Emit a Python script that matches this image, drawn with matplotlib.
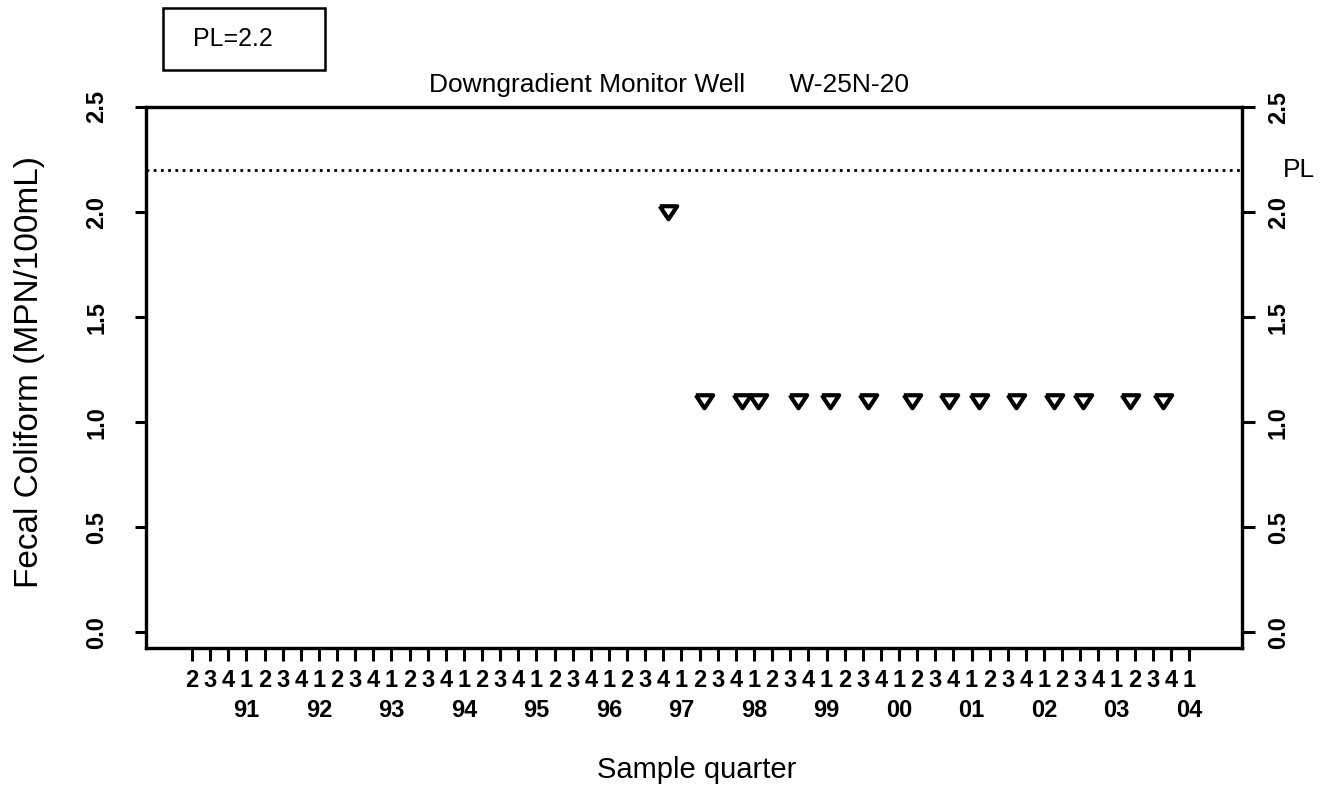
import matplotlib.pyplot as plt
from matplotlib.patches import Rectangle
from matplotlib.transforms import blended_transform_factory

plt.rcParams['font.family'] = ['Liberation Sans', 'DejaVu Sans']

# sample dates (decimal year) and fecal coliform results, MPN/100mL
sample_time = [1996.82, 1997.31, 1997.83, 1998.05, 1998.61, 1999.05, 1999.57, 2000.18,
               2000.69, 2001.10, 2001.62, 2002.14, 2002.54, 2003.19, 2003.64]
coliform = [2.0, 1.1, 1.1, 1.1, 1.1, 1.1, 1.1, 1.1,
            1.1, 1.1, 1.1, 1.1, 1.1, 1.1, 1.1]
pl_value = 2.2

# quarter axis: 1990 Q2 .. 2004 Q1
first_quarter = 1990.25
quarter_labels = list('234' + '1234' * 13 + '1')
year_labels = ['91', '92', '93', '94', '95', '96', '97', '98', '99', '00', '01', '02', '03', '04']
year_start = 1991
y_ticks = [0.0, 0.5, 1.0, 1.5, 2.0, 2.5]
y_ticklabels = ['0.0', '0.5', '1.0', '1.5', '2.0', '2.5']

W, H = 1332, 789
fig = plt.figure(figsize=(W / 100, H / 100), dpi=100)
ax = fig.add_axes([146 / W, 141 / H, 1096 / W, 541 / H])

ax.axhline(pl_value, color='black', lw=2.0, ls=(0, (1, 1.6)))

tri = [(-1, 0.72), (1, 0.72), (0, -0.78), (-1, 0.72)]
ax.plot(sample_time, coliform, ls='none', marker=tri, ms=12.5,
        mfc='white', mec='black', mew=3.0)

ax.set_xlim(1989.615, 2004.73)
ax.set_ylim(-0.074, 2.5)

for s in ax.spines.values():
    s.set_linewidth(2.3)

q_pos = [first_quarter + 0.25 * i for i in range(len(quarter_labels))]
ax.set_xticks(q_pos, quarter_labels)
ax.tick_params(axis='x', direction='out', length=9, width=2.2, pad=6,
               labelsize=17)
for lab in ax.get_xticklabels():
    lab.set_fontweight('bold')

sec = ax.secondary_xaxis('bottom')
sec.set_xticks([year_start + i for i in range(len(year_labels))], year_labels)
sec.tick_params(length=0, pad=37, labelsize=17)
sec.spines['bottom'].set_visible(False)
for lab in sec.get_xticklabels():
    lab.set_fontweight('bold')

ax.set_yticks(y_ticks, y_ticklabels)
ax.tick_params(axis='y', direction='out', length=8, width=2.2, pad=19,
               labelsize=17, labelrotation=90)
for lab in ax.get_yticklabels():
    lab.set_va('center')
    lab.set_fontweight('bold')

ax2 = ax.twinx()
ax2.set_ylim(ax.get_ylim())
ax2.set_yticks(y_ticks, y_ticklabels)
ax2.tick_params(axis='y', direction='out', length=9, width=2.2, pad=9,
                labelsize=17, labelrotation=90)
for lab in ax2.get_yticklabels():
    lab.set_va('center')
    lab.set_fontweight('bold')
for s in ax2.spines.values():
    s.set_linewidth(2.3)

trans = blended_transform_factory(ax.transAxes, ax.transData)
ax.text(1.052, pl_value, 'PL', transform=trans, ha='center', va='center',
        fontsize=19)

fig.text(669 / W, 1 - 85 / H, 'Downgradient Monitor Well      W-25N-20',
         ha='center', va='center', fontsize=19)
fig.text(697 / W, 1 - 770 / H, 'Sample quarter', ha='center', va='center',
         fontsize=21)
fig.text(30 / W, 1 - 372 / H, 'Fecal Coliform (MPN/100mL)', ha='center',
         va='center', rotation=90, fontsize=24)

fig.patches.append(Rectangle((163 / W, 1 - 70 / H), 162 / W, 62 / H,
                             transform=fig.transFigure, fill=False,
                             lw=1.8, ec='black'))
fig.text(193 / W, 1 - 39 / H, 'PL=2.2', ha='left', va='center', fontsize=18)

fig.savefig('out.png', dpi=100)
